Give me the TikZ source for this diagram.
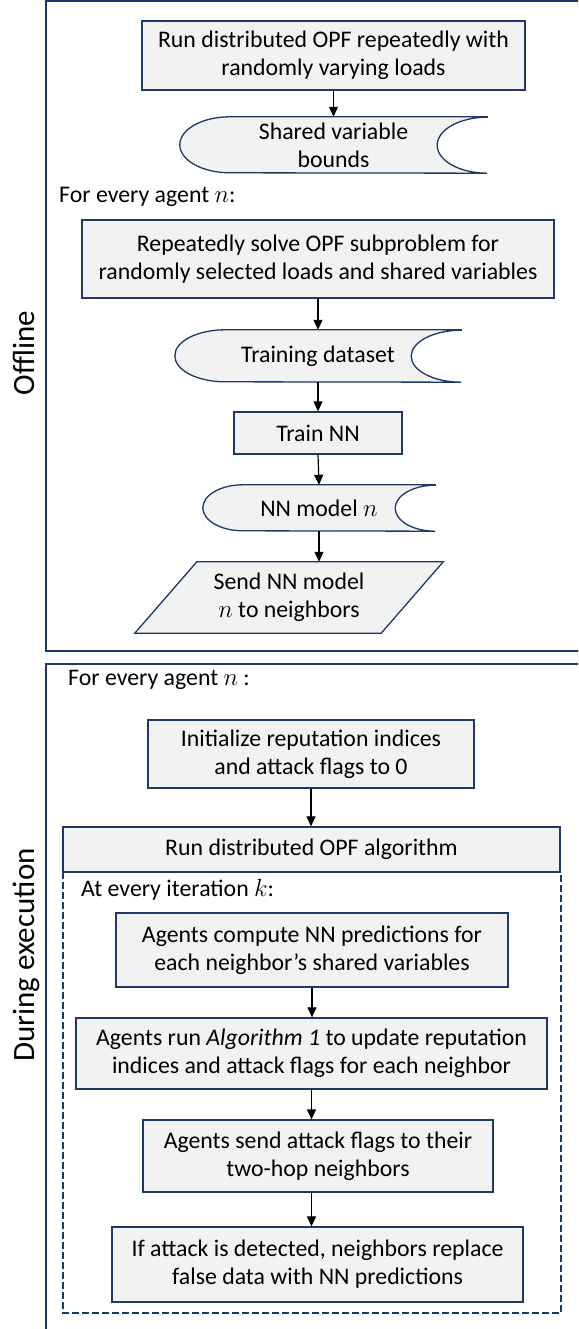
\documentclass[tikz,border=0pt]{standalone}
\usepackage{fontspec}
\setmainfont{Carlito}
\usetikzlibrary{arrows.meta,backgrounds}
\definecolor{navy}{HTML}{1F3864}
\definecolor{boxgray}{HTML}{F2F2F2}
\newcommand\storeshape[3]{% node, x radius, half height
  \path[storeline] (#1.north east) -- ([xshift=#2]#1.north west)
    arc[start angle=90,end angle=270,x radius=#2,y radius=#3]
    -- (#1.south east)
    arc[start angle=270,end angle=90,x radius=#2,y radius=#3] -- cycle;}
\begin{document}
\begin{tikzpicture}[x=1pt,y=-1pt,
  font=\fontsize{23.8}{28}\selectfont,
  procbox/.style={draw=navy, fill=boxgray, line width=1.3pt, align=center, inner sep=0pt},
  storebox/.style={align=center, inner sep=0pt},
  storeline/.style={draw=navy, fill=boxgray, line width=1.3pt},
  frame/.style={draw=navy, line width=2pt},
  dashframe/.style={draw=navy, line width=2pt, dash pattern=on 7pt off 3pt},
  flow/.style={-{Triangle[length=10pt,width=9pt]}, line width=1.2pt, black},
  plain/.style={anchor=west, inner sep=0pt},
  sidelabel/.style={rotate=90, font=\fontsize{31}{36}\selectfont, inner sep=0pt}]
\useasboundingbox (0,0) rectangle (578,1329);
\clip (0,0) rectangle (578,1329);

% ---------- Offline ----------
\draw[frame] (46,1.5) rectangle (640,651);
\node[sidelabel] (offl) at (24,353) {Offline};

\node[procbox, minimum width=383pt, minimum height=69pt] (box1) at (333.5,55.5)
  {Run distributed OPF repeatedly with\\randomly varying loads};
\node[storebox, minimum width=307pt, minimum height=56pt] (sv) at (333.5,145)
  {Shared variable\\bounds};
\node[plain] (lab1) at (59,197) {For every agent $n$:};
\node[procbox, minimum width=472pt, minimum height=78pt] (rep) at (318,259)
  {Repeatedly solve OPF subproblem for\\randomly selected loads and shared variables};
\node[storebox, minimum width=286pt, minimum height=52pt] (tds) at (318,356)
  {Training dataset};
\node[procbox, minimum width=168pt, minimum height=42pt] (tnn) at (318,433)
  {Train NN};
\node[storebox, minimum width=232pt, minimum height=46pt] (nnm) at (319,508)
  {NN model $n$};
\node[storebox, minimum width=246pt, minimum height=71pt] (send) at (289,597.5)
  {Send NN model\\$n$ to neighbors};

\begin{scope}[on background layer]
  \storeshape{sv}{50pt}{28pt}
  \storeshape{tds}{50pt}{26pt}
  \storeshape{nnm}{40pt}{23pt}
  \path[storeline] ([xshift=-31pt]send.south west) -- ([xshift=31pt]send.north west)
    -- ([xshift=31pt]send.north east) -- ([xshift=-31pt]send.south east) -- cycle;
\end{scope}

\draw[flow] (box1.south) -- (sv.north);
\draw[flow] (rep.south) -- (tds.north);
\draw[flow] (tds.south) -- (tnn.north);
\draw[flow] (tnn.south) -- (nnm.north);
\draw[flow] (nnm.south) -- (nnm.south |- send.north);

% ---------- During execution ----------
\draw[frame] (46,664) rectangle (640,1360);
\node[sidelabel] (exec) at (26,955) {During execution};
\node[plain] (lab2) at (68,680) {For every agent $n$ :};
\node[procbox, minimum width=326pt, minimum height=68pt] (init) at (311,754)
  {Initialize reputation indices\\and attack flags to 0};
\node[procbox, minimum width=497pt, minimum height=45pt] (opf) at (311.5,849.5)
  {Run distributed OPF algorithm};
\draw[dashframe] (63,872) rectangle (561,1313);
\node[plain] (lab3) at (81,890) {At every iteration $k$:};
\node[procbox, minimum width=392pt, minimum height=74pt] (comp) at (312,950)
  {Agents compute NN predictions for\\each neighbor’s shared variables};
\node[procbox, minimum width=471pt, minimum height=71pt] (alg) at (311.5,1053.5)
  {Agents run \textit{Algorithm 1} to update reputation\\indices and attack flags for each neighbor};
\node[procbox, minimum width=350pt, minimum height=72pt] (sendf) at (318,1156)
  {Agents send attack flags to their\\two-hop neighbors};
\node[procbox, minimum width=411pt, minimum height=75pt] (att) at (317.5,1264.5)
  {If attack is detected, neighbors replace\\false data with NN predictions};

\draw[flow] (init.south) -- (init.south |- opf.north);
\draw[flow] (comp.south) -- (comp.south |- alg.north);
\draw[flow] (alg.south) -- (alg.south |- sendf.north);
\draw[flow] (alg.south |- sendf.south) -- (alg.south |- att.north);
\end{tikzpicture}
\end{document}
